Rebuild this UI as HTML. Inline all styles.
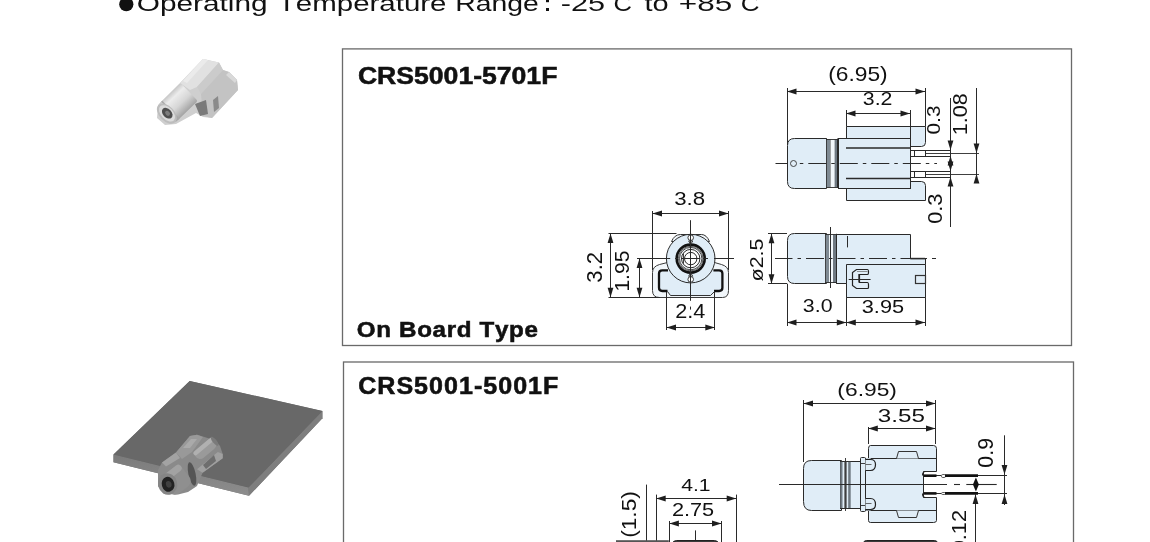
<!DOCTYPE html>
<html><head><meta charset="utf-8"><style>
html,body{margin:0;padding:0;background:#fff;}
body{width:1150px;height:542px;overflow:hidden;position:relative;}
svg{position:absolute;left:0;top:0;font-family:"Liberation Sans",sans-serif;will-change:transform;}
text{font-kerning:none;font-feature-settings:"kern" 0,"liga" 0;}
</style></head><body>
<svg width="1150" height="542" viewBox="0 0 1150 542">
<defs>
<filter id="bl" x="-10%" y="-10%" width="120%" height="120%"><feGaussianBlur stdDeviation="0.7"/></filter>
<filter id="bl2" x="-10%" y="-10%" width="120%" height="120%"><feGaussianBlur stdDeviation="0.5"/></filter>
<linearGradient id="cylg" x1="0" y1="0" x2="1" y2="1">
<stop offset="0" stop-color="#d8d8d8"/><stop offset="0.5" stop-color="#eeeeee"/><stop offset="1" stop-color="#a8a8a8"/>
</linearGradient>
<linearGradient id="topg" x1="0" y1="0" x2="1" y2="0">
<stop offset="0" stop-color="#e6e6e6"/><stop offset="1" stop-color="#d4d4d4"/>
</linearGradient>
<linearGradient id="boardg" x1="0" y1="0" x2="1" y2="1">
<stop offset="0" stop-color="#6c6c6c"/><stop offset="1" stop-color="#666"/>
</linearGradient>
</defs>
<!-- small connector photo -->
<linearGradient id="cyl2" x1="0" y1="0" x2="0" y2="1">
<stop offset="0" stop-color="#c8c8c8"/><stop offset="0.22" stop-color="#ececec"/><stop offset="0.6" stop-color="#d6d6d6"/><stop offset="1" stop-color="#a3a3a3"/>
</linearGradient>
<g filter="url(#bl)">
<polygon points="158,105 180,83 203,59 219,62.5 223,70 229,72 237,80 238,90 212,118 203,117 196,113 176,124 165,125 157,118" fill="#cfcfcf"/>
<polygon points="180,83 203,59 219,62.5 197,87 190,90" fill="#e1e1e1"/>
<polygon points="183,81 203,59 208,60 187,83" fill="#ebebeb"/>
<polygon points="219,62.5 223,70 201,94 197,87" fill="#cbcbcb"/>
<polygon points="223,70 229,72 237,80 238,90 212,118 203,116 201,94" fill="#c3c3c3"/>
<polygon points="229,72 237,80 235,83 226,75" fill="#d9d9d9"/>
<polygon points="213,100 218,96 219,108 214,112" fill="#8a8a8a"/>
<polygon points="195,104 206,100 208,114 200,116" fill="#7a7a7a"/>
<g transform="translate(178.4,102.4) rotate(-44)">
<rect x="-16" y="-12.4" width="31" height="24.8" rx="2" fill="url(#cyl2)"/>
<rect x="-12" y="-12.4" width="1.6" height="24.8" fill="#a8a8a8"/>
</g>
<g transform="translate(166.8,113.6) rotate(-44)">
<ellipse cx="0" cy="0" rx="7.5" ry="12" fill="#bdbdbd"/>
<ellipse cx="0.3" cy="0" rx="6" ry="9.8" fill="#dcdcdc"/>
<ellipse cx="0.6" cy="0" rx="4.3" ry="6.2" fill="#505050"/>
<ellipse cx="0.8" cy="0.3" rx="2" ry="2.8" fill="#7d7d7d"/>
</g>
</g>
<!-- board photo -->
<linearGradient id="lf" x1="0" y1="0" x2="0" y2="1"><stop offset="0" stop-color="#7b7b7b"/><stop offset="1" stop-color="#8d8d8d"/></linearGradient>
<g filter="url(#bl2)">
<polygon points="189.7,381 322.4,411 322.4,418.3 249,495.8 113.5,462.2 113.5,454.5" fill="#747474"/>
<polygon points="113.5,454.5 248.5,487.5 249,495.8 113.5,462.2" fill="url(#lf)"/>
<polygon points="248.5,487.5 322.4,411 322.4,418.3 249,495.8" fill="#7e7e7e"/>
<polygon points="189.7,381 322.4,411 248.5,487.5 113.5,454.5" fill="#676767"/>
</g>
<g filter="url(#bl)">
<polygon points="162,462.5 176,452.5 190,436 197,434.7 215,440.2 220,446 222.7,454 222.7,458.2 202.6,472.8 197,486 188,492 178,494.5 164,494 158,486 158,470" fill="#8a8a8a"/>
<polygon points="162,462.5 176,452.5 180,458 166,466.5" fill="#a3a3a3"/>
<polygon points="176,452.5 190,436 197,434.7 203,437 192,452 182,459" fill="#999"/>
<polygon points="183,448 191,439 197,439 190,448" fill="#aaa"/>
<polygon points="197,469.3 217.8,452 222.7,454 222.7,458.2 202.6,472.8" fill="#a0a0a0"/>
<polygon points="203,465 214,455 216,461 206,469" fill="#6e6e6e"/>
<g transform="translate(205.5,449) rotate(-40)">
<rect x="-12.5" y="-5.5" width="25" height="11" rx="5.5" fill="#9a9a9a"/>
<rect x="-12.5" y="-5.5" width="25" height="4.5" rx="2.2" fill="#b0b0b0"/>
<ellipse cx="12" cy="0" rx="2" ry="5.5" fill="#7a7a7a"/>
</g>
<g transform="translate(192,474) rotate(-12)">
<ellipse cx="0" cy="0" rx="3.6" ry="12" fill="#555"/>
</g>
<g transform="translate(177.5,479.5) rotate(-38)">
<rect x="-14" y="-12" width="25" height="24" rx="7" fill="#8f8f8f"/>
<rect x="-14" y="-12" width="25" height="7" rx="3.5" fill="#a2a2a2"/>
</g>
<g transform="translate(167.6,484) rotate(-15)">
<ellipse cx="0" cy="0" rx="9.6" ry="10.8" fill="#858585"/>
<ellipse cx="0.4" cy="0.4" rx="6.3" ry="7.6" fill="#232323"/>
<ellipse cx="1" cy="0.6" rx="2.8" ry="3.4" fill="#404040"/>
</g>
</g>

<rect x="342.5" y="48.9" width="729" height="296.6" rx="0" fill="#fff" stroke="#6a6a6a" stroke-width="1.31" />
<rect x="343.5" y="362" width="730" height="200" rx="0" fill="#fff" stroke="#6a6a6a" stroke-width="1.31" />
<text transform="scale(1.08,1)" x="331.40" y="84.20" font-size="24.63" font-weight="bold" fill="#111" letter-spacing="-0.006" stroke="#111" stroke-width="0.55">CRS5001-5701F</text>
<text transform="scale(1.08,1)" x="330.38" y="337.00" font-size="22.36" font-weight="bold" fill="#111" letter-spacing="0.614" stroke="#111" stroke-width="0.55">On Board Type</text>
<text transform="scale(1.08,1)" x="331.64" y="393.90" font-size="23.20" font-weight="bold" fill="#111" letter-spacing="0.950" stroke="#111" stroke-width="0.55">CRS5001-5001F</text>
<circle cx="126.3" cy="4.2" r="7.1" fill="#111"/>
<text x="136.79" y="11.20" font-size="21.50" font-weight="normal" fill="#111" textLength="130.83" lengthAdjust="spacingAndGlyphs" >Operating</text>
<text x="277.84" y="11.20" font-size="21.50" font-weight="normal" fill="#111" textLength="168.67" lengthAdjust="spacingAndGlyphs" >Temperature</text>
<text x="455.38" y="11.20" font-size="21.50" font-weight="normal" fill="#111" textLength="83.48" lengthAdjust="spacingAndGlyphs" >Range</text>
<text x="560.74" y="11.20" font-size="21.50" font-weight="normal" fill="#111" textLength="44.35" lengthAdjust="spacingAndGlyphs" >-25</text>
<text x="613.50" y="11.20" font-size="21.50" font-weight="normal" fill="#111" textLength="18.47" lengthAdjust="spacingAndGlyphs" >C</text>
<text x="644.56" y="11.20" font-size="21.50" font-weight="normal" fill="#111" textLength="24.15" lengthAdjust="spacingAndGlyphs" >to</text>
<text x="678.86" y="11.20" font-size="21.50" font-weight="normal" fill="#111" textLength="53.46" lengthAdjust="spacingAndGlyphs" >+85</text>
<text x="740.88" y="11.20" font-size="21.50" font-weight="normal" fill="#111" textLength="18.82" lengthAdjust="spacingAndGlyphs" >C</text>
<rect x="546" y="8" width="3" height="3" fill="#111"/><rect x="546" y="-0.8" width="3" height="3" fill="#111"/>
<path d="M846.5,138.5 V126.5 H925.5 V142.5 Q925.5,146.5 921.5,146.5 H910.5 V138.5 Z" fill="#e0edf7" stroke="#2a2a2a" stroke-width="1.0" />
<path d="M846.5,188.5 V200.5 H925.5 V185.5 Q925.5,181.5 921.5,181.5 H910.5 V188.5 Z" fill="#e0edf7" stroke="#2a2a2a" stroke-width="1.0" />
<rect x="838.5" y="138.5" width="72.0" height="50.0" rx="0" fill="#e0edf7" stroke="#2a2a2a" stroke-width="1.0" />
<path d="M826.5,138.5 H794.5 Q787.5,138.5 787.5,145.5 V181.5 Q787.5,188.5 794.5,188.5 H826.5 Z" fill="#e0edf7" stroke="#2a2a2a" stroke-width="1.0" />
<rect x="826" y="139.3" width="4" height="48" rx="0" fill="#7f8a93" stroke="none" stroke-width="1.0" />
<rect x="830" y="139.3" width="4.6" height="48" rx="0" fill="#f2f7fb" stroke="none" stroke-width="1.0" />
<rect x="834.6" y="139.3" width="3.2" height="48" rx="0" fill="#6f7982" stroke="none" stroke-width="1.0" />
<line x1="826.5" y1="138.5" x2="826.5" y2="188" stroke="#2a2a2a" stroke-width="0.8" />
<line x1="830.5" y1="139.3" x2="830.5" y2="187.5" stroke="#666" stroke-width="0.6" />
<line x1="837.5" y1="138.5" x2="837.5" y2="188" stroke="#2a2a2a" stroke-width="1.0" />
<line x1="826" y1="139.5" x2="838" y2="139.5" stroke="#2a2a2a" stroke-width="0.9" />
<line x1="826" y1="187.5" x2="838" y2="187.5" stroke="#2a2a2a" stroke-width="0.9" />
<line x1="846" y1="148" x2="910" y2="148" stroke="#2a2a2a" stroke-width="1.3" />
<line x1="846" y1="178.5" x2="910" y2="178.5" stroke="#2a2a2a" stroke-width="1.3" />
<line x1="910" y1="150.5" x2="951" y2="150.5" stroke="#2a2a2a" stroke-width="1.0" />
<line x1="910" y1="156.5" x2="951" y2="156.5" stroke="#2a2a2a" stroke-width="1.0" />
<rect x="914.5" y="150.5" width="11.0" height="6.0" rx="0" fill="none" stroke="#2a2a2a" stroke-width="1.0" />
<line x1="910" y1="171.5" x2="951" y2="171.5" stroke="#2a2a2a" stroke-width="1.0" />
<line x1="910" y1="177.5" x2="951" y2="177.5" stroke="#2a2a2a" stroke-width="1.0" />
<rect x="914.5" y="171.5" width="11.0" height="6.0" rx="0" fill="none" stroke="#2a2a2a" stroke-width="1.0" />
<line x1="925" y1="153.5" x2="979" y2="153.5" stroke="#2a2a2a" stroke-width="0.9" />
<line x1="925" y1="174.5" x2="979" y2="174.5" stroke="#2a2a2a" stroke-width="0.9" />
<line x1="775.5" y1="163.5" x2="788" y2="163.5" stroke="#2a2a2a" stroke-width="1.0" />
<line x1="797" y1="163.5" x2="937" y2="163.5" stroke="#2a2a2a" stroke-width="1.0" stroke-dasharray="18,5,3.5,5" stroke-dashoffset="20.2"/>
<circle cx="793.5" cy="163.5" r="3" fill="none" stroke="#333" stroke-width="0.9"/>
<line x1="787.5" y1="88" x2="787.5" y2="145" stroke="#2a2a2a" stroke-width="1.0" />
<line x1="925.5" y1="88" x2="925.5" y2="126.5" stroke="#2a2a2a" stroke-width="1.0" />
<line x1="787" y1="91.5" x2="925" y2="91.5" stroke="#2a2a2a" stroke-width="1.0" />
<polygon points="787.00,91.50 796.50,88.60 796.50,94.40" fill="#1e1e1e"/>
<polygon points="925.00,91.50 915.50,88.60 915.50,94.40" fill="#1e1e1e"/>
<line x1="846.5" y1="110" x2="846.5" y2="126.5" stroke="#2a2a2a" stroke-width="1.0" />
<line x1="910.5" y1="110" x2="910.5" y2="138.5" stroke="#2a2a2a" stroke-width="1.0" />
<line x1="846" y1="113.5" x2="910" y2="113.5" stroke="#2a2a2a" stroke-width="1.0" />
<polygon points="846.00,113.50 855.50,110.60 855.50,116.40" fill="#1e1e1e"/>
<polygon points="910.00,113.50 900.50,110.60 900.50,116.40" fill="#1e1e1e"/>
<text x="828.19" y="81.20" font-size="19.35" font-weight="normal" fill="#111" textLength="59.53" lengthAdjust="spacingAndGlyphs" >(6.95)</text>
<text x="862.89" y="105.23" font-size="17.66" font-weight="normal" fill="#111" textLength="29.58" lengthAdjust="spacingAndGlyphs" >3.2</text>
<line x1="950.5" y1="98" x2="950.5" y2="227" stroke="#2a2a2a" stroke-width="1.0" />
<polygon points="950.50,150.00 947.60,140.50 953.40,140.50" fill="#1e1e1e"/>
<polygon points="950.50,156.00 947.60,165.50 953.40,165.50" fill="#1e1e1e"/>
<polygon points="950.50,171.00 947.60,161.50 953.40,161.50" fill="#1e1e1e"/>
<polygon points="950.50,177.00 947.60,186.50 953.40,186.50" fill="#1e1e1e"/>
<line x1="976.5" y1="88" x2="976.5" y2="180" stroke="#2a2a2a" stroke-width="1.0" />
<polygon points="976.50,153.00 973.60,143.50 979.40,143.50" fill="#1e1e1e"/>
<polygon points="976.50,174.00 973.60,183.50 979.40,183.50" fill="#1e1e1e"/>
<text transform="translate(939.81,134.41) rotate(-90)" x="0" y="0" font-size="19.07" fill="#111" textLength="28.82" lengthAdjust="spacingAndGlyphs">0.3</text>
<text transform="translate(967.30,135.24) rotate(-90)" x="0" y="0" font-size="20.06" fill="#111" textLength="41.98" lengthAdjust="spacingAndGlyphs">1.08</text>
<text transform="translate(941.80,223.85) rotate(-90)" x="0" y="0" font-size="20.62" fill="#111" textLength="30.31" lengthAdjust="spacingAndGlyphs">0.3</text>
<path d="M671.5,241.5 Q674.5,234.5 680.5,234.5 H701.5 Q706.5,234.5 709.5,241.5 Z" fill="#f1f6fa" stroke="#333" stroke-width="1.0" />
<path d="M667.5,262.5 L659.5,264.5 Q652.5,266.5 652.5,272.5 V290.5 Q652.5,297.5 659.5,297.5 H722.5 Q728.5,297.5 728.5,290.5 V272.5 Q728.5,266.5 721.5,264.5 L714.5,262.5 Z" fill="#f1f6fa" stroke="#3a3a3a" stroke-width="1.0" />
<path d="M668,270.3 H662.3 Q659,270.3 659,273.6 V287.8 Q659,291 662.3,291 H667 L670.8,295.6 H710.6 L714.4,291 H719.1 Q722.4,291 722.4,287.8 V273.6 Q722.4,270.3 719.1,270.3 H713.4 Z" fill="#e0edf7" stroke="none" stroke-width="1.0" />
<path d="M668,270.3 H662.3 Q659,270.3 659,273.6 V287.8 Q659,291 662.3,291 H667.5" fill="none" stroke="#111" stroke-width="2.3" />
<path d="M713.4,270.3 H719.1 Q722.4,270.3 722.4,273.6 V287.8 Q722.4,291 719.1,291 H714" fill="none" stroke="#111" stroke-width="2.3" />
<path d="M667.5,291.5 L670.5,295.5 H710.5 L714.5,291.5" fill="none" stroke="#333" stroke-width="1.0" />
<circle cx="690.7" cy="258.6" r="24.3" fill="#e0edf7" stroke="#2a2a2a" stroke-width="1"/>
<circle cx="690.7" cy="258.6" r="14.0" fill="#f4f8fb" stroke="#111" stroke-width="2.6"/>
<circle cx="690.7" cy="258.6" r="12.3" fill="none" stroke="#333" stroke-width="0.8"/>
<circle cx="690.7" cy="258.6" r="11.2" fill="none" stroke="#333" stroke-width="0.9"/>
<circle cx="690.7" cy="258.6" r="9.2" fill="#fff" stroke="#2a2a2a" stroke-width="1"/>
<circle cx="690.7" cy="258.6" r="6.2" fill="#fff" stroke="#2a2a2a" stroke-width="1"/>
<line x1="683.5" y1="253.5" x2="683.5" y2="263.7" stroke="#2a2a2a" stroke-width="0.9" />
<circle cx="690.7" cy="237.7" r="2.8" fill="#fff" stroke="#2a2a2a" stroke-width="0.9"/>
<circle cx="690.7" cy="279.4" r="2.8" fill="#fff" stroke="#2a2a2a" stroke-width="0.9"/>
<polygon points="688.7,241 692.7,241 690.7,244.4" fill="#fff" stroke="#222" stroke-width="0.9"/>
<polygon points="688.7,276.2 692.7,276.2 690.7,272.8" fill="#fff" stroke="#222" stroke-width="0.9"/>
<line x1="690.5" y1="220.2" x2="690.5" y2="300.8" stroke="#2a2a2a" stroke-width="1.0" />
<line x1="690.5" y1="306.6" x2="690.5" y2="309.6" stroke="#2a2a2a" stroke-width="1.0" />
<line x1="637" y1="258.5" x2="670.2" y2="258.5" stroke="#2a2a2a" stroke-width="1.0" />
<line x1="675" y1="258.5" x2="678" y2="258.5" stroke="#2a2a2a" stroke-width="1.0" />
<line x1="681" y1="258.5" x2="700" y2="258.5" stroke="#2a2a2a" stroke-width="1.0" />
<line x1="703" y1="258.5" x2="708" y2="258.5" stroke="#2a2a2a" stroke-width="1.0" />
<line x1="714" y1="258.5" x2="734" y2="258.5" stroke="#2a2a2a" stroke-width="1.0" />
<line x1="652.5" y1="211" x2="652.5" y2="270" stroke="#2a2a2a" stroke-width="1.0" />
<line x1="728.5" y1="211" x2="728.5" y2="270" stroke="#2a2a2a" stroke-width="1.0" />
<line x1="652.5" y1="213.5" x2="728.5" y2="213.5" stroke="#2a2a2a" stroke-width="1.0" />
<polygon points="652.50,213.50 662.00,210.60 662.00,216.40" fill="#1e1e1e"/>
<polygon points="728.50,213.50 719.00,210.60 719.00,216.40" fill="#1e1e1e"/>
<text x="674.25" y="204.72" font-size="18.79" font-weight="normal" fill="#111" textLength="30.91" lengthAdjust="spacingAndGlyphs" >3.8</text>
<line x1="608.5" y1="233.5" x2="676.5" y2="233.5" stroke="#2a2a2a" stroke-width="1.0" />
<line x1="608.5" y1="297.5" x2="660" y2="297.5" stroke="#2a2a2a" stroke-width="1.0" />
<line x1="610.5" y1="233.6" x2="610.5" y2="297.3" stroke="#2a2a2a" stroke-width="1.0" />
<polygon points="610.50,233.60 607.60,243.10 613.40,243.10" fill="#1e1e1e"/>
<polygon points="610.50,297.30 607.60,287.80 613.40,287.80" fill="#1e1e1e"/>
<line x1="637" y1="258.5" x2="660" y2="258.5" stroke="#2a2a2a" stroke-width="1.0" />
<line x1="639.5" y1="258.6" x2="639.5" y2="297.3" stroke="#2a2a2a" stroke-width="1.0" />
<polygon points="639.50,258.60 636.60,268.10 642.40,268.10" fill="#1e1e1e"/>
<polygon points="639.50,297.30 636.60,287.80 642.40,287.80" fill="#1e1e1e"/>
<text transform="translate(601.79,282.64) rotate(-90)" x="0" y="0" font-size="21.19" fill="#111" textLength="30.76" lengthAdjust="spacingAndGlyphs">3.2</text>
<text transform="translate(629.21,291.60) rotate(-90)" x="0" y="0" font-size="19.77" fill="#111" textLength="40.99" lengthAdjust="spacingAndGlyphs">1.95</text>
<line x1="666.5" y1="292" x2="666.5" y2="330" stroke="#2a2a2a" stroke-width="1.0" />
<line x1="714.5" y1="292" x2="714.5" y2="330" stroke="#2a2a2a" stroke-width="1.0" />
<line x1="666.5" y1="327.5" x2="714.8" y2="327.5" stroke="#2a2a2a" stroke-width="1.0" />
<polygon points="666.50,327.50 676.00,324.60 676.00,330.40" fill="#1e1e1e"/>
<polygon points="714.80,327.50 705.30,324.60 705.30,330.40" fill="#1e1e1e"/>
<text x="675.31" y="318.00" font-size="20.34" font-weight="normal" fill="#111" textLength="30.12" lengthAdjust="spacingAndGlyphs" >2.4</text>
<path d="M846.5,264.5 H925.5 V297.5 H846.5 Z" fill="#e0edf7" stroke="#2a2a2a" stroke-width="1.0" />
<path d="M836.5,234.5 H910.5 V258.5 H925.5 V264.5 H846.5 V283.5 H836.5 Z" fill="#e0edf7" stroke="#2a2a2a" stroke-width="1.0" />
<line x1="910.3" y1="258.6" x2="925" y2="258.6" stroke="#2a2a2a" stroke-width="1.6" />
<path d="M826.5,233.5 H794.5 Q787.5,233.5 787.5,240.5 V276.5 Q787.5,283.5 794.5,283.5 H826.5 Z" fill="#e0edf7" stroke="#2a2a2a" stroke-width="1.0" />
<rect x="825.3" y="234.6" width="3.9" height="48.3" rx="0" fill="#7f8a93" stroke="none" stroke-width="1.0" />
<rect x="829.2" y="234.6" width="3.8" height="48.3" rx="0" fill="#f2f7fb" stroke="none" stroke-width="1.0" />
<rect x="833" y="234.6" width="3" height="48.3" rx="0" fill="#6f7982" stroke="none" stroke-width="1.0" />
<line x1="825.5" y1="233.8" x2="825.5" y2="283.7" stroke="#2a2a2a" stroke-width="0.8" />
<line x1="836.5" y1="233.8" x2="836.5" y2="283.7" stroke="#2a2a2a" stroke-width="1.0" />
<line x1="825.3" y1="234.5" x2="836" y2="234.5" stroke="#2a2a2a" stroke-width="0.9" />
<line x1="825.3" y1="282.5" x2="836" y2="282.5" stroke="#2a2a2a" stroke-width="0.9" />
<line x1="830.5" y1="227" x2="830.5" y2="288" stroke="#2a2a2a" stroke-width="1.0" />
<line x1="847.5" y1="236" x2="847.5" y2="247.4" stroke="#2a2a2a" stroke-width="1.0" />
<path d="M856.5,269.5 H867.5 Q868.5,269.5 868.5,271.5 V272.5 Q868.5,274.5 867.5,274.5 H859.5 V282.5 H867.5 Q868.5,282.5 868.5,284.5 V287.5 Q868.5,288.5 867.5,288.5 H856.5 L852.5,285.5 V272.5 Z" fill="none" stroke="#222" stroke-width="1.2" />
<line x1="857" y1="271.5" x2="867.5" y2="271.5" stroke="#666" stroke-width="0.7" />
<line x1="858.5" y1="274" x2="858.5" y2="282.5" stroke="#444" stroke-width="0.8" />
<line x1="848.7" y1="279.5" x2="870.6" y2="279.5" stroke="#2a2a2a" stroke-width="1.0" />
<rect x="915.5" y="275.5" width="10.0" height="8.0" rx="0" fill="none" stroke="#333" stroke-width="1.2" />
<line x1="775" y1="258.5" x2="787" y2="258.5" stroke="#2a2a2a" stroke-width="1.0" />
<line x1="787" y1="258.5" x2="936" y2="258.5" stroke="#2a2a2a" stroke-width="1.0" stroke-dasharray="18,5,3.5,5" stroke-dashoffset="-19"/>
<line x1="768" y1="233.5" x2="787" y2="233.5" stroke="#2a2a2a" stroke-width="1.0" />
<line x1="768" y1="283.5" x2="787" y2="283.5" stroke="#2a2a2a" stroke-width="1.0" />
<line x1="771.5" y1="233.8" x2="771.5" y2="283.7" stroke="#2a2a2a" stroke-width="1.0" />
<polygon points="771.50,233.80 768.60,243.30 774.40,243.30" fill="#1e1e1e"/>
<polygon points="771.50,283.70 768.60,274.20 774.40,274.20" fill="#1e1e1e"/>
<text transform="translate(763.16,281.46) rotate(-90)" x="0" y="0" font-size="18.14" fill="#111" textLength="42.96" lengthAdjust="spacingAndGlyphs">ø2.5</text>
<line x1="787.5" y1="283.7" x2="787.5" y2="326" stroke="#2a2a2a" stroke-width="1.0" />
<line x1="846.5" y1="297.2" x2="846.5" y2="326" stroke="#2a2a2a" stroke-width="1.0" />
<line x1="925.5" y1="297.2" x2="925.5" y2="326" stroke="#2a2a2a" stroke-width="1.0" />
<line x1="787" y1="322.5" x2="846.3" y2="322.5" stroke="#2a2a2a" stroke-width="1.0" />
<polygon points="787.00,322.50 796.50,319.60 796.50,325.40" fill="#1e1e1e"/>
<polygon points="846.30,322.50 836.80,319.60 836.80,325.40" fill="#1e1e1e"/>
<line x1="846.3" y1="322.5" x2="925" y2="322.5" stroke="#2a2a2a" stroke-width="1.0" />
<polygon points="846.30,322.50 855.80,319.60 855.80,325.40" fill="#1e1e1e"/>
<polygon points="925.00,322.50 915.50,319.60 915.50,325.40" fill="#1e1e1e"/>
<text x="802.89" y="312.12" font-size="18.36" font-weight="normal" fill="#111" textLength="29.65" lengthAdjust="spacingAndGlyphs" >3.0</text>
<text x="861.77" y="313.22" font-size="18.64" font-weight="normal" fill="#111" textLength="42.34" lengthAdjust="spacingAndGlyphs" >3.95</text>
<path d="M868.5,458.5 V448.5 Q868.5,445.5 870.5,445.5 H933.5 Q936.5,445.5 936.5,448.5 V471.5 H923.5 V497.5 H936.5 V520.5 Q936.5,522.5 933.5,522.5 H870.5 Q868.5,522.5 868.5,520.5 V510.5 Z" fill="#e0edf7" stroke="#2a2a2a" stroke-width="1.0" />
<path d="M865.5,458.5 H936.5 M865.5,510.5 H936.5" fill="none" stroke="#2a2a2a" stroke-width="1.1" />
<path d="M896.5,458.5 L898.5,451.5 H916.5 L918.5,458.5" fill="#e0edf7" stroke="#333" stroke-width="1.0" />
<path d="M896.5,510.5 L898.5,517.5 H916.5 L918.5,510.5" fill="#e0edf7" stroke="#333" stroke-width="1.0" />
<path d="M841.5,460.5 H811.5 Q803.5,460.5 803.5,468.5 V501.5 Q803.5,510.5 811.5,510.5 H841.5 Z" fill="#e0edf7" stroke="#2a2a2a" stroke-width="1.0" />
<rect x="840.5" y="461.5" width="20.0" height="47.0" rx="0" fill="#e0edf7" stroke="#2a2a2a" stroke-width="1.0" />
<rect x="840.3" y="461.8" width="2.2" height="46.2" rx="0" fill="#6f7982" stroke="none" stroke-width="1.0" />
<rect x="848.2" y="461.8" width="2.5" height="46.2" rx="0" fill="#6f7982" stroke="none" stroke-width="1.0" />
<line x1="844.5" y1="461.6" x2="844.5" y2="508.2" stroke="#555" stroke-width="0.7" />
<line x1="846.5" y1="461.6" x2="846.5" y2="508.2" stroke="#555" stroke-width="0.7" />
<line x1="845.5" y1="458" x2="845.5" y2="511" stroke="#2a2a2a" stroke-width="0.9" />
<rect x="860.5" y="457.5" width="5.0" height="54.0" rx="1" fill="#e0edf7" stroke="#2a2a2a" stroke-width="1.0" />
<line x1="860.7" y1="463.5" x2="865.7" y2="463.5" stroke="#2a2a2a" stroke-width="0.9" />
<line x1="860.7" y1="505.5" x2="865.7" y2="505.5" stroke="#2a2a2a" stroke-width="0.9" />
<rect x="865.7" y="458.2" width="5" height="52.3" rx="0" fill="#e0edf7" stroke="none" stroke-width="1.0" />
<line x1="865.5" y1="458.2" x2="865.5" y2="510.5" stroke="#2a2a2a" stroke-width="1.0" />
<path d="M865.5,459.5 H870.5 Q875.5,459.5 875.5,464.5 Q875.5,470.5 870.5,470.5 H865.5" fill="#e0edf7" stroke="#222" stroke-width="1.2" />
<path d="M865.5,464.5 H871.5" fill="none" stroke="#444" stroke-width="0.8" />
<path d="M865.5,509.5 H870.5 Q875.5,509.5 875.5,504.5 Q875.5,498.5 870.5,498.5 H865.5" fill="#e0edf7" stroke="#222" stroke-width="1.2" />
<path d="M865.5,503.5 H871.5" fill="none" stroke="#444" stroke-width="0.8" />
<path d="M925.5,471.5 Q922.5,471.5 922.5,475.5 M925.5,497.5 Q922.5,497.5 922.5,493.5" fill="none" stroke="#222" stroke-width="1.1" />
<line x1="923.7" y1="475.5" x2="941" y2="475.5" stroke="#2a2a2a" stroke-width="1.0" />
<line x1="923.7" y1="475.7" x2="936.5" y2="475.7" stroke="#111" stroke-width="2.6" />
<rect x="941.5" y="474.5" width="4.0" height="3.0" rx="1.2" fill="#fff" stroke="#333" stroke-width="0.8" />
<line x1="945" y1="475.7" x2="978" y2="475.7" stroke="#111" stroke-width="2.8" />
<line x1="978" y1="475.5" x2="1007" y2="475.5" stroke="#2a2a2a" stroke-width="1.0" />
<line x1="923.7" y1="493.5" x2="941" y2="493.5" stroke="#2a2a2a" stroke-width="1.0" />
<line x1="923.7" y1="493.4" x2="936.5" y2="493.4" stroke="#111" stroke-width="2.6" />
<rect x="941.5" y="492.5" width="4.0" height="2.0" rx="1.2" fill="#fff" stroke="#333" stroke-width="0.8" />
<line x1="945" y1="493.4" x2="978" y2="493.4" stroke="#111" stroke-width="2.8" />
<line x1="978" y1="493.5" x2="1007" y2="493.5" stroke="#2a2a2a" stroke-width="1.0" />
<line x1="779" y1="484.5" x2="947" y2="484.5" stroke="#2a2a2a" stroke-width="1.1" />
<line x1="954" y1="484.5" x2="960" y2="484.5" stroke="#2a2a2a" stroke-width="1.1" />
<line x1="966.3" y1="484.5" x2="996.7" y2="484.5" stroke="#2a2a2a" stroke-width="1.1" />
<polygon points="975.9,477.6 978.9,484.6 975.9,491.6 972.9,484.6" fill="#111"/>
<line x1="803.5" y1="400" x2="803.5" y2="462" stroke="#2a2a2a" stroke-width="1.0" />
<line x1="935.5" y1="400" x2="935.5" y2="444" stroke="#2a2a2a" stroke-width="1.0" />
<line x1="803.5" y1="403.5" x2="935.5" y2="403.5" stroke="#2a2a2a" stroke-width="1.0" />
<polygon points="803.50,403.50 813.00,400.60 813.00,406.40" fill="#1e1e1e"/>
<polygon points="935.50,403.50 926.00,400.60 926.00,406.40" fill="#1e1e1e"/>
<line x1="868.5" y1="427" x2="868.5" y2="444" stroke="#2a2a2a" stroke-width="1.0" />
<line x1="868.3" y1="428.5" x2="935.5" y2="428.5" stroke="#2a2a2a" stroke-width="1.0" />
<polygon points="868.30,428.50 877.80,425.60 877.80,431.40" fill="#1e1e1e"/>
<polygon points="935.50,428.50 926.00,425.60 926.00,431.40" fill="#1e1e1e"/>
<text x="837.39" y="395.60" font-size="19.20" font-weight="normal" fill="#111" textLength="59.53" lengthAdjust="spacingAndGlyphs" >(6.95)</text>
<text x="877.88" y="422.12" font-size="18.50" font-weight="normal" fill="#111" textLength="47.14" lengthAdjust="spacingAndGlyphs" >3.55</text>
<line x1="1004.5" y1="435.3" x2="1004.5" y2="505" stroke="#2a2a2a" stroke-width="1.0" />
<polygon points="1004.50,474.40 1001.60,464.90 1007.40,464.90" fill="#1e1e1e"/>
<polygon points="1004.50,494.60 1001.60,504.10 1007.40,504.10" fill="#1e1e1e"/>
<text transform="translate(993.28,467.63) rotate(-90)" x="0" y="0" font-size="22.17" fill="#111" textLength="29.64" lengthAdjust="spacingAndGlyphs">0.9</text>
<line x1="975.5" y1="494" x2="975.5" y2="545" stroke="#2a2a2a" stroke-width="1.0" />
<polygon points="975.50,494.60 972.60,504.10 978.40,504.10" fill="#1e1e1e"/>
<text transform="translate(966.30,552.35) rotate(-90)" x="0" y="0" font-size="20.20" fill="#111" textLength="42.45" lengthAdjust="spacingAndGlyphs">0.12</text>
<rect x="863.5" y="540.5" width="74.0" height="10.0" rx="3" fill="#3a3a3a" stroke="#222" stroke-width="1" />
<line x1="646.5" y1="484.6" x2="646.5" y2="545" stroke="#2a2a2a" stroke-width="1.0" />
<line x1="656.5" y1="494.6" x2="656.5" y2="545" stroke="#2a2a2a" stroke-width="1.0" />
<line x1="736.5" y1="494.6" x2="736.5" y2="545" stroke="#2a2a2a" stroke-width="1.0" />
<line x1="656.2" y1="498.5" x2="736.2" y2="498.5" stroke="#2a2a2a" stroke-width="1.0" />
<polygon points="656.20,498.50 665.70,495.60 665.70,501.40" fill="#1e1e1e"/>
<polygon points="736.20,498.50 726.70,495.60 726.70,501.40" fill="#1e1e1e"/>
<text x="681.21" y="491.20" font-size="16.28" font-weight="normal" fill="#111" textLength="29.42" lengthAdjust="spacingAndGlyphs" >4.1</text>
<line x1="669.5" y1="521" x2="669.5" y2="545" stroke="#2a2a2a" stroke-width="1.0" />
<line x1="721.5" y1="521" x2="721.5" y2="545" stroke="#2a2a2a" stroke-width="1.0" />
<line x1="669.4" y1="523.5" x2="721.5" y2="523.5" stroke="#2a2a2a" stroke-width="1.0" />
<polygon points="669.40,523.50 678.90,520.60 678.90,526.40" fill="#1e1e1e"/>
<polygon points="721.50,523.50 712.00,520.60 712.00,526.40" fill="#1e1e1e"/>
<text x="671.91" y="515.62" font-size="18.79" font-weight="normal" fill="#111" textLength="42.31" lengthAdjust="spacingAndGlyphs" >2.75</text>
<line x1="695.5" y1="530.4" x2="695.5" y2="545" stroke="#2a2a2a" stroke-width="1.0" />
<text transform="translate(635.77,537.81) rotate(-90)" x="0" y="0" font-size="19.96" fill="#111" textLength="46.61" lengthAdjust="spacingAndGlyphs">(1.5)</text>
<rect x="616" y="540.2" width="52.8" height="6" rx="0" fill="#555" stroke="none" stroke-width="1.0" />
<rect x="672.5" y="540.5" width="46.0" height="10.0" rx="4" fill="#3a3a3a" stroke="#222" stroke-width="1" />
</svg>
</body></html>
